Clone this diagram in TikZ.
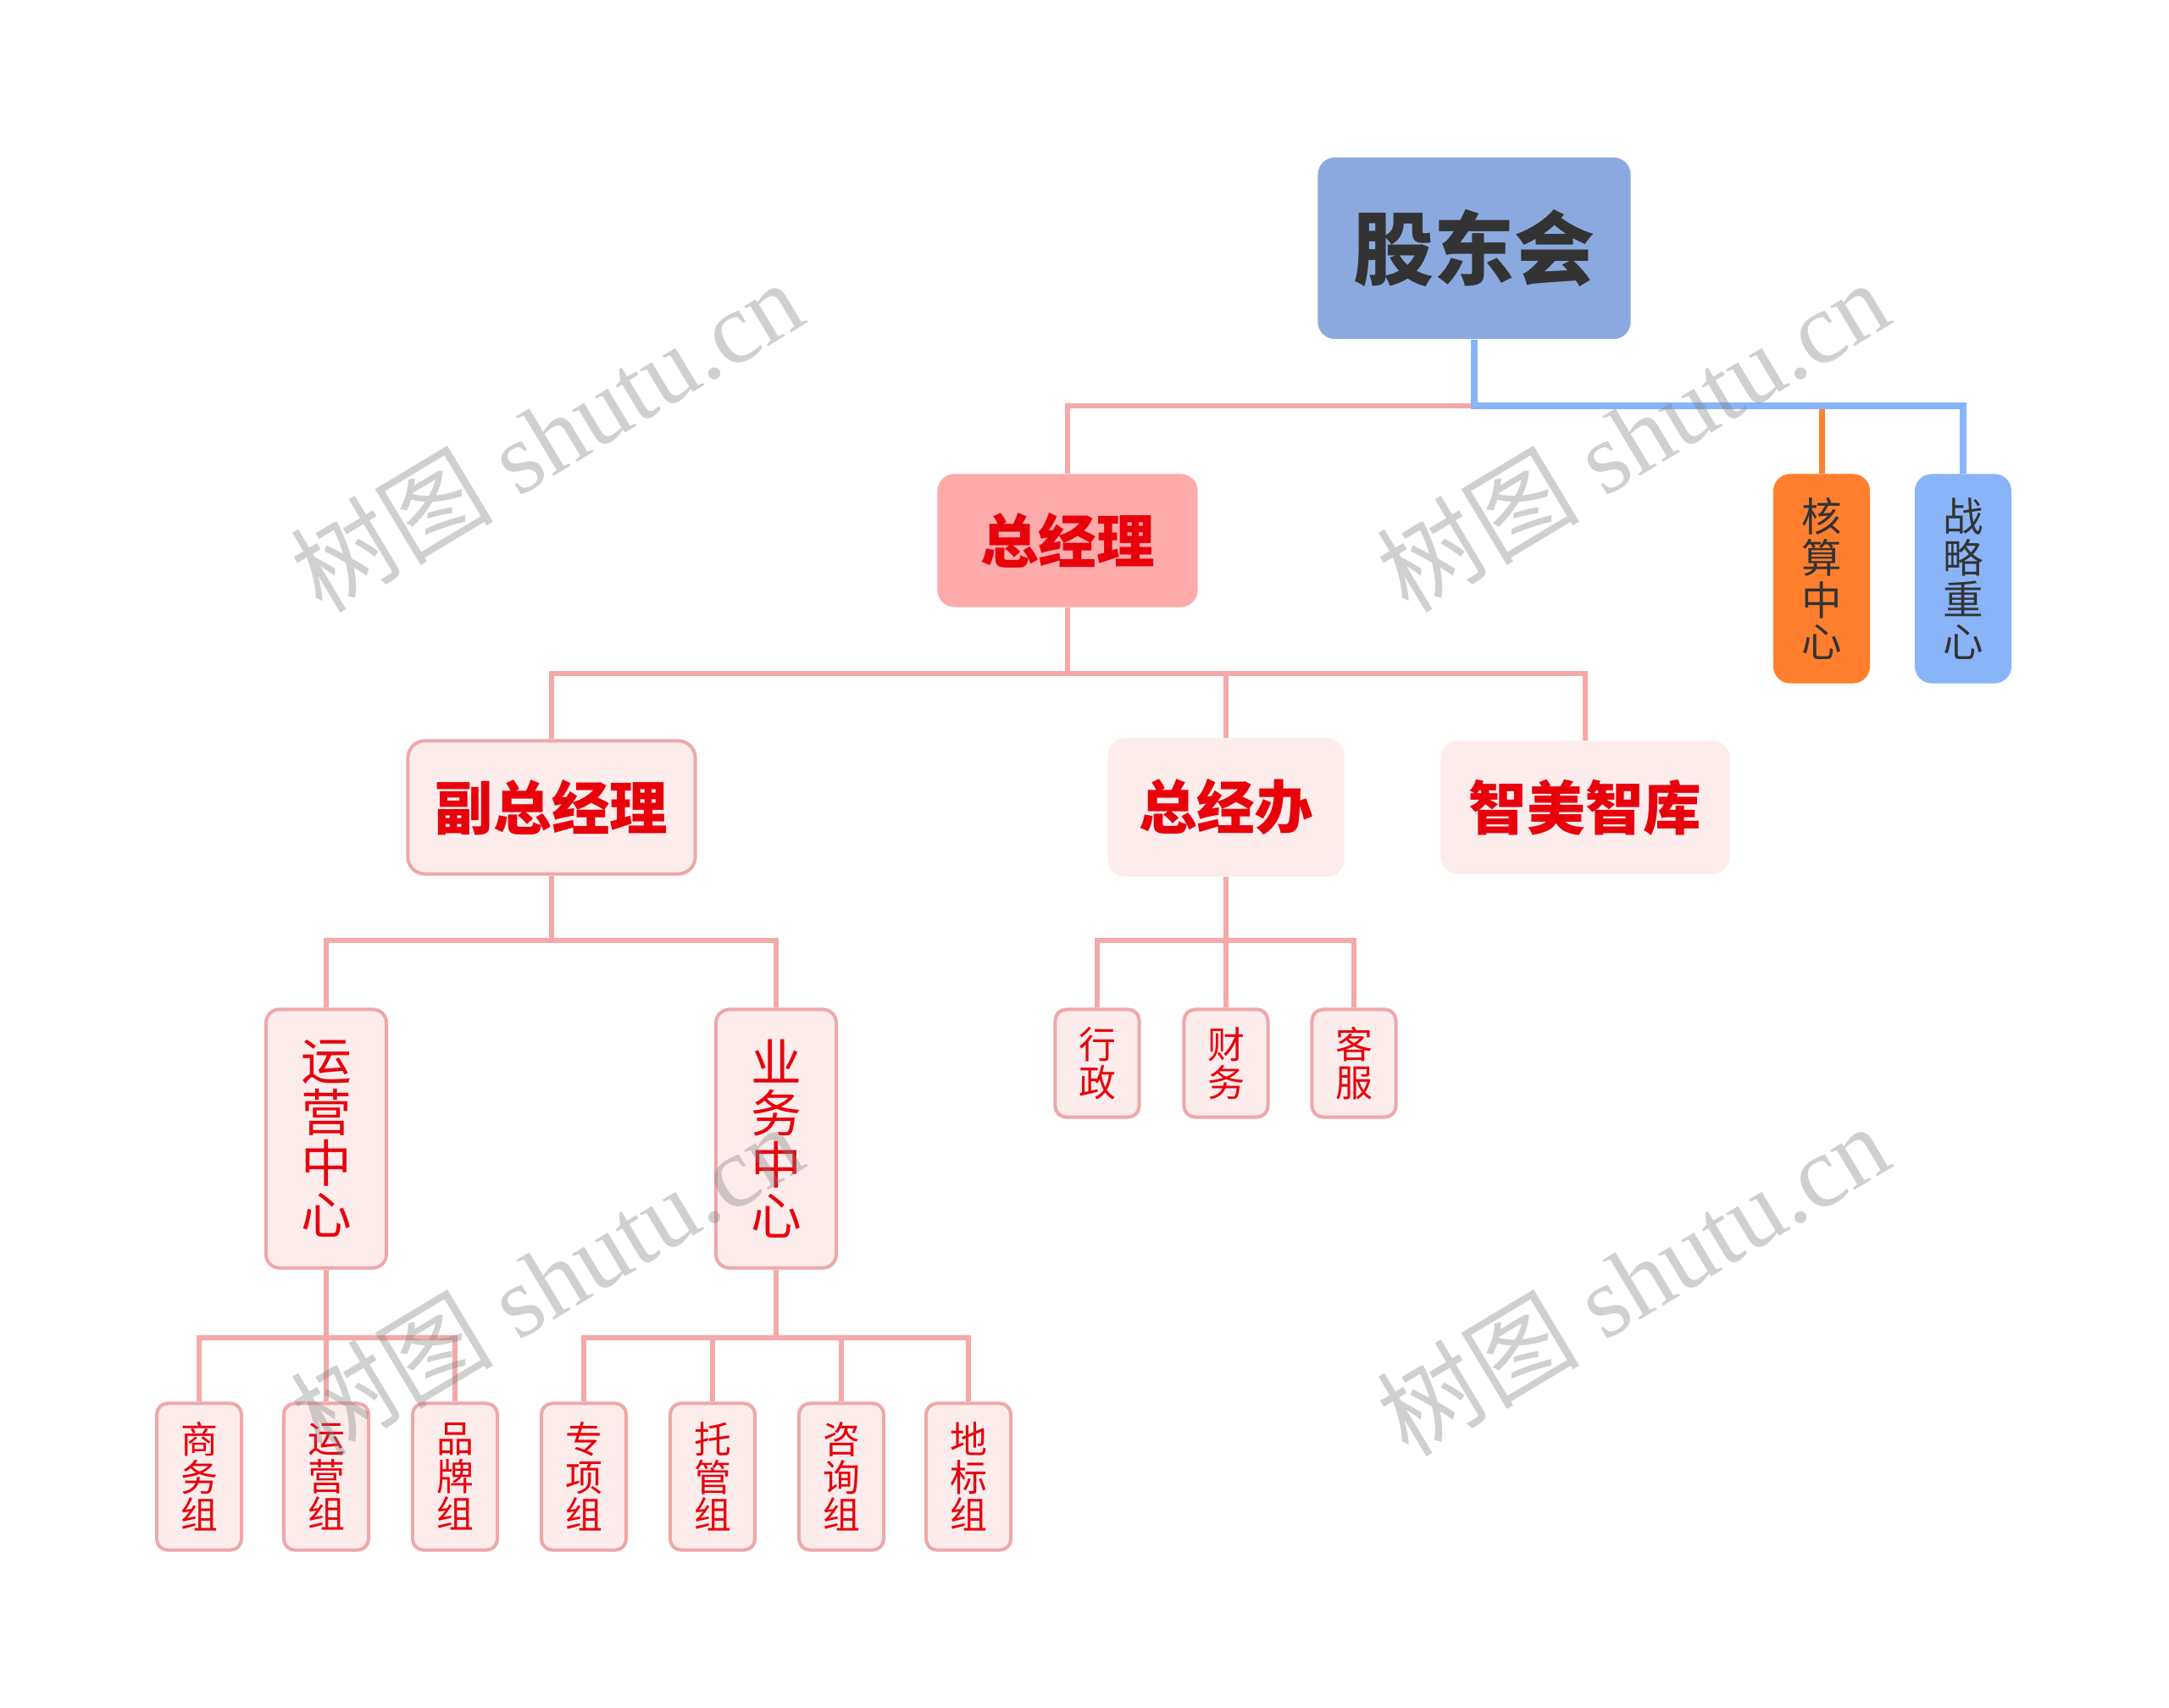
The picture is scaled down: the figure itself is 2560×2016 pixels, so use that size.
\documentclass[tikz,border=0pt]{standalone}
\usepackage{fontspec}
\newfontfamily\cjk{Noto Sans CJK SC}
\newfontfamily\wmserif{Liberation Serif}
\definecolor{lnpink}{HTML}{F4A9A8}
\definecolor{lnblue}{HTML}{8AB4F8}
\definecolor{lnorange}{HTML}{FF7F2F}
\definecolor{rootfill}{HTML}{8AAADF}
\definecolor{zjlfill}{HTML}{FDAAAA}
\definecolor{lightfill}{HTML}{FDECEC}
\definecolor{bordpink}{HTML}{EFA7A7}
\definecolor{txtred}{HTML}{E8000B}
\definecolor{txtdark}{HTML}{333333}
\definecolor{orfill}{HTML}{FF7F2F}
\definecolor{blfill}{HTML}{8AB4F8}
\tikzset{
  box/.style={rounded corners=0.2cm, inner sep=0pt, align=center},
  rootbox/.style={box, fill=rootfill, minimum width=3.69cm, minimum height=2.14cm,
    text=txtdark, font=\cjk\bfseries\fontsize{27}{27}\selectfont},
  mgrbox/.style={box, fill=zjlfill, minimum width=3.07cm, minimum height=1.57cm,
    text=txtred, font=\cjk\bfseries\fontsize{19.5}{19.5}\selectfont},
  deptbox/.style={box, fill=lightfill, minimum height=1.57cm,
    text=txtred, font=\cjk\bfseries\fontsize{19.5}{19.5}\selectfont},
  sidebox/.style={box, minimum width=1.14cm, minimum height=2.47cm,
    text=txtdark, font=\cjk\fontsize{13.5}{14}\selectfont},
  centerbox/.style={box, rounded corners=0.16cm, fill=lightfill, draw=bordpink, line width=0.04cm,
    minimum width=1.42cm, minimum height=3.05cm,
    text=txtred, font=\cjk\fontsize{17}{17.2}\selectfont},
  smallbox/.style={box, rounded corners=0.13cm, fill=lightfill, draw=bordpink, line width=0.04cm,
    minimum width=0.99cm, minimum height=1.27cm,
    text=txtred, font=\cjk\fontsize{12.5}{12.7}\selectfont},
  leafbox/.style={box, rounded corners=0.13cm, fill=lightfill, draw=bordpink, line width=0.04cm,
    minimum width=1.0cm, minimum height=1.73cm,
    text=txtred, font=\cjk\fontsize{12.5}{12.7}\selectfont},
  pk/.style={draw=lnpink, line width=0.065cm},
  bl/.style={draw=lnblue, line width=0.08cm},
  orl/.style={draw=lnorange, line width=0.07cm},
  wm/.style={rotate=31, text=black!50, opacity=0.37, inner sep=0pt,
    font=\wmserif\fontsize{34}{34}\selectfont},
}
\begin{document}
\begin{tikzpicture}[x=0.01cm, y=-0.01cm]
\useasboundingbox[fill=white] (0,0) rectangle (2560,2016);

% nodes
\node[rootbox] (gdh) at (1740,293) {股东会};
\node[mgrbox] (zjl) at (1260,638) {总经理};
\node[sidebox, fill=orfill] (hs) at (2150,683) {核\\算\\中\\心};
\node[sidebox, fill=blfill] (zl) at (2317,683) {战\\略\\重\\心};

\node[deptbox, draw=bordpink, line width=0.04cm, minimum width=3.39cm] (fzjl) at (651,953) {副总经理};
\node[deptbox, minimum width=2.79cm, minimum height=1.63cm] (zjb) at (1447,953) {总经办};
\node[deptbox, minimum width=3.41cm] (zmzk) at (1871,953) {智美智库};

\node[centerbox] (yyzx) at (385,1344) {运\\营\\中\\心};
\node[centerbox] (ywzx) at (916,1344) {业\\务\\中\\心};

\node[smallbox] (xz) at (1295,1255) {行\\政};
\node[smallbox] (cw) at (1447,1255) {财\\务};
\node[smallbox] (kf) at (1598,1255) {客\\服};

\node[leafbox] (swz) at (235,1743) {商\\务\\组};
\node[leafbox] (yyz) at (385,1743) {运\\营\\组};
\node[leafbox] (ppz) at (537,1743) {品\\牌\\组};
\node[leafbox] (zxz) at (689,1743) {专\\项\\组};
\node[leafbox] (tgz) at (841,1743) {托\\管\\组};
\node[leafbox] (zcz) at (993,1743) {咨\\询\\组};
\node[leafbox] (dbz) at (1143,1743) {地\\标\\组};

% junctions
\coordinate (j1) at (1740,479);
\coordinate (j2) at (1260,795);
\coordinate (j3a) at (651,1110);
\coordinate (j3b) at (1447,1110);
\coordinate (j4a) at (385,1579);
\coordinate (j4b) at (916,1579);

% level 1
\draw[pk] (zjl.north) -- (zjl.north |- j1) -- (j1);
\draw[orl] (hs.north) -- (hs.north |- j1);
\draw[bl] (gdh.south) -- (j1) -- (j1 -| zl.north) -- (zl.north);

% level 2
\draw[pk] (zjl.south) -- (j2);
\draw[pk] (fzjl.north) -- (fzjl.north |- j2) -- (zmzk.north |- j2) -- (zmzk.north);
\draw[pk] (zjb.north) -- (zjb.north |- j2);

% level 3
\draw[pk] (fzjl.south) -- (j3a);
\draw[pk] (yyzx.north) -- (yyzx.north |- j3a) -- (ywzx.north |- j3a) -- (ywzx.north);
\draw[pk] (zjb.south) -- (j3b);
\draw[pk] (xz.north) -- (xz.north |- j3b) -- (kf.north |- j3b) -- (kf.north);
\draw[pk] (cw.north) -- (cw.north |- j3b);

% level 4
\draw[pk] (yyzx.south) -- (j4a);
\draw[pk] (swz.north) -- (swz.north |- j4a) -- (ppz.north |- j4a) -- (ppz.north);
\draw[pk] (yyz.north) -- (yyz.north |- j4a);
\draw[pk] (ywzx.south) -- (j4b);
\draw[pk] (zxz.north) -- (zxz.north |- j4b) -- (dbz.north |- j4b) -- (dbz.north);
\draw[pk] (tgz.north) -- (tgz.north |- j4b);
\draw[pk] (zcz.north) -- (zcz.north |- j4b);

% watermarks
\node[wm] (wm1) at (645,514) {{\cjk 树图} shutu.cn};
\node[wm] (wm2) at (1927,514) {{\cjk 树图} shutu.cn};
\node[wm] (wm3) at (645,1510) {{\cjk 树图} shutu.cn};
\node[wm] (wm4) at (1927,1510) {{\cjk 树图} shutu.cn};
\end{tikzpicture}
\end{document}
